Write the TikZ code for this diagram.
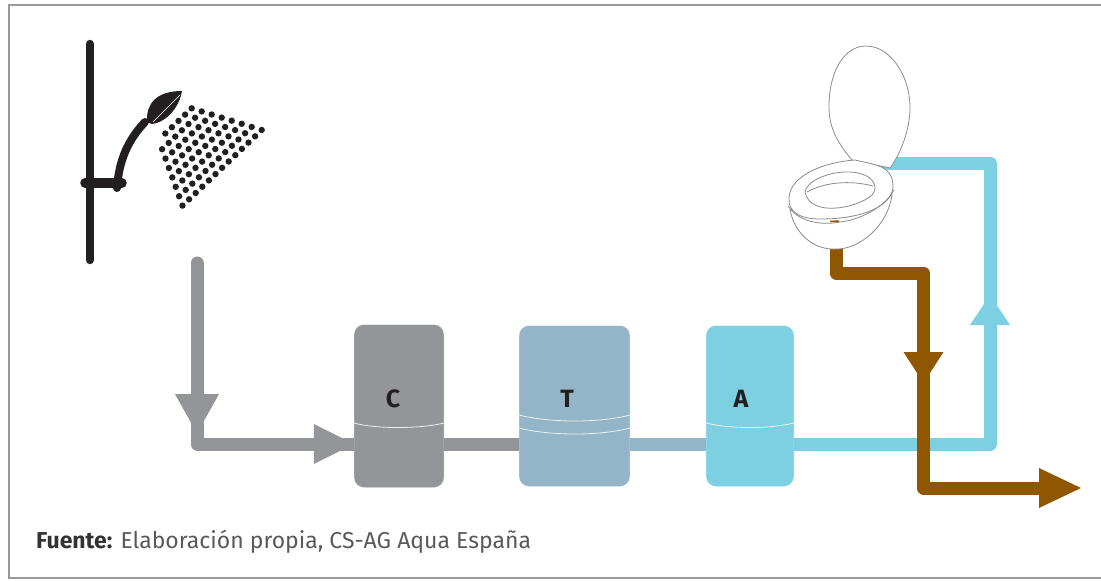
\documentclass[tikz,border=0pt]{standalone}
\usepackage{fontspec}
\setmainfont{Fira Sans}
\usetikzlibrary{calc,arrows.meta}
\definecolor{showerblack}{HTML}{231F20}
\definecolor{tankgray}{HTML}{939598}
\definecolor{tankblue}{HTML}{94B5C8}
\definecolor{tankcyan}{HTML}{7DD0E2}
\definecolor{drainbrown}{HTML}{8E5700}
\definecolor{framegray}{HTML}{999999}
\definecolor{bowlgray}{HTML}{8A8B8D}

\begin{document}
\begin{tikzpicture}[x=1pt,y=-1pt]

\tikzset{
tank/.style={rounded corners=10pt,inner sep=0pt,draw=white,very thin},
tanklabel/.style={font=\bfseries\fontsize{25}{25}\selectfont,text=showerblack},
pipe/.style={line width=13pt,line join=round},
pipehead/.style={-{Triangle[length=40pt,width=41pt]}},
waterline/.style={white!85!tankgray,line width=0.8pt},
bowl/.style={bowlgray,line width=0.8pt,line join=round},
}

\useasboundingbox (0,0) rectangle (1101,581);
\draw[framegray,line width=2pt] (1110,5) -- (9,5) -- (9,578) -- (1110,578);

% Nodes
\node[tank,fill=tankgray,minimum width=90pt,minimum height=163pt] (tankc) at (399,406) {};
\node[tank,fill=tankblue,minimum width=111pt,minimum height=161pt] (tankt) at (574.5,406) {};
\node[tank,fill=tankcyan,minimum width=88pt,minimum height=161pt] (tanka) at (750,406) {};

\coordinate (pipey) at (0,444);
\coordinate (graystart) at (197,263);
\coordinate (graytip) at (197,434);
\coordinate (graycorner) at (197,444);
\coordinate (cyantip) at (990,295);
\coordinate (cyancorner) at (990,444);
\coordinate (cyantop) at (990,163);
\coordinate (cyanend) at (880,163);
\coordinate (brownstart) at (836,248);
\coordinate (browncorner1) at (836,273);
\coordinate (browncorner2) at (923.5,273);
\coordinate (browntip) at (923.5,383);
\coordinate (browncorner3) at (923.5,488);
\coordinate (brownend) at (1081,488);


% Pipes
\draw[pipe,tankgray,line cap=round,pipehead] (graystart) -- (graytip);
\draw[pipe,tankgray] (197,400) -- (graycorner) -- (tankc.west |- pipey);
\fill[tankgray] (tankc.west |- pipey) -- ++(-40,-20) -- ++(0,40) -- cycle;
\draw[pipe,tankgray] (tankc.east |- pipey) -- (tankt.west |- pipey);
\draw[pipe,tankblue] (tankt.east |- pipey) -- (tanka.west |- pipey);

\draw[pipe,tankcyan] (tanka.east |- pipey) -- (cyancorner) -- (cyantop) -- (cyanend);
\fill[tankcyan] (cyantip) -- ++(20,30) -- ++(-40,0) -- cycle;

\draw[pipe,drainbrown] (brownstart) -- (browncorner1) -- (browncorner2) -- (browncorner3) -- (1045,488);
\fill[drainbrown] (browntip) -- ++(20,-31) -- ++(-40,0) -- cycle;
\fill[drainbrown] (brownend) -- ++(-42,-20) -- ++(0,40) -- cycle;


% Tank lines
\draw[waterline] (tankc.west |- 0,423) .. controls (375,429) and (420,429) .. (tankc.east |- 0,423);
\draw[waterline] (tankt.west |- 0,415) .. controls (550,423) and (600,423) .. (tankt.east |- 0,415);
\draw[waterline] (tankt.west |- 0,428) .. controls (550,436) and (600,436) .. (tankt.east |- 0,428);
\draw[waterline] (tanka.west |- 0,423) .. controls (730,429) and (770,429) .. (tanka.east |- 0,423);


% Labels
\node[tanklabel] (labc) at (393,399) {C};
\node[tanklabel] (labt) at (567,399) {T};
\node[tanklabel] (laba) at (741,399) {A};
\node[anchor=base west,inner sep=0pt,text=black!65,font=\fontsize{23}{23}\selectfont] (source) at (36,548) {\textcolor{black!80}{\textbf{Fuente:}} Elaboración propia, CS-AG Aqua España};


% Shower
\draw[showerblack,line width=8.5pt,line cap=round] (90,44) -- (90,260);
\draw[showerblack,line width=9.5pt,line cap=round] (85,183) -- (122,183);
\draw[showerblack,line width=8pt,line cap=round] (117,188) .. controls (119,160) and (128,140) .. (145,122);
\fill[showerblack] (147,122) .. controls (146,105) and (155,91) .. (182,91) .. controls (180,105) and (168,122) .. (152,124) -- cycle;
\draw[white,line width=0.7pt] (153,122) -- (180,95);

\foreach \i/\jmax in {0/7,1/7,2/7,3/7,4/7,5/6,6/6,7/5,8/4,9/3,10/2,11/1,12/0}
  \foreach \j in {0,...,\jmax}
    \fill[showerblack] ($(261.7,130)+\i*(-6.6,6.3)+\j*(-10,-3.1)$) circle (3.2);


% Toilet
\draw[bowl,fill=white] (790,210) .. controls (795,235) and (815,250) .. (835,249) .. controls (860,250) and (888,225) .. (892,195) -- cycle;
\draw[bowl,fill=white] (852,160) .. controls (835,140) and (829,125) .. (829,107) .. controls (829,70) and (845,46) .. (866,46) .. controls (890,46) and (910,75) .. (910,108) .. controls (910,130) and (900,155) .. (890,168) -- cycle;
\draw[bowl,fill=white] (789,198) .. controls (790,175) and (825,162) .. (855,160) .. controls (875,165) and (893,165) .. (893,187) .. controls (892,205) and (865,219) .. (820,219) .. controls (800,219) and (788,212) .. (789,198) -- cycle;
\draw[bowl] (788,206) .. controls (800,224) and (825,225) .. (840,222) .. controls (860,220) and (885,207) .. (894,190);
\draw[bowl] (805,192) .. controls (808,178) and (835,171) .. (850,172) .. controls (872,173) and (880,186) .. (872,195) .. controls (858,208) and (810,218) .. (805,192) -- cycle;
\draw[bowl] (807,192) .. controls (825,182) and (850,180) .. (873,186);
\draw[drainbrown,line width=1.5pt] (830,221.5) -- (839,221);

\end{tikzpicture}
\end{document}
